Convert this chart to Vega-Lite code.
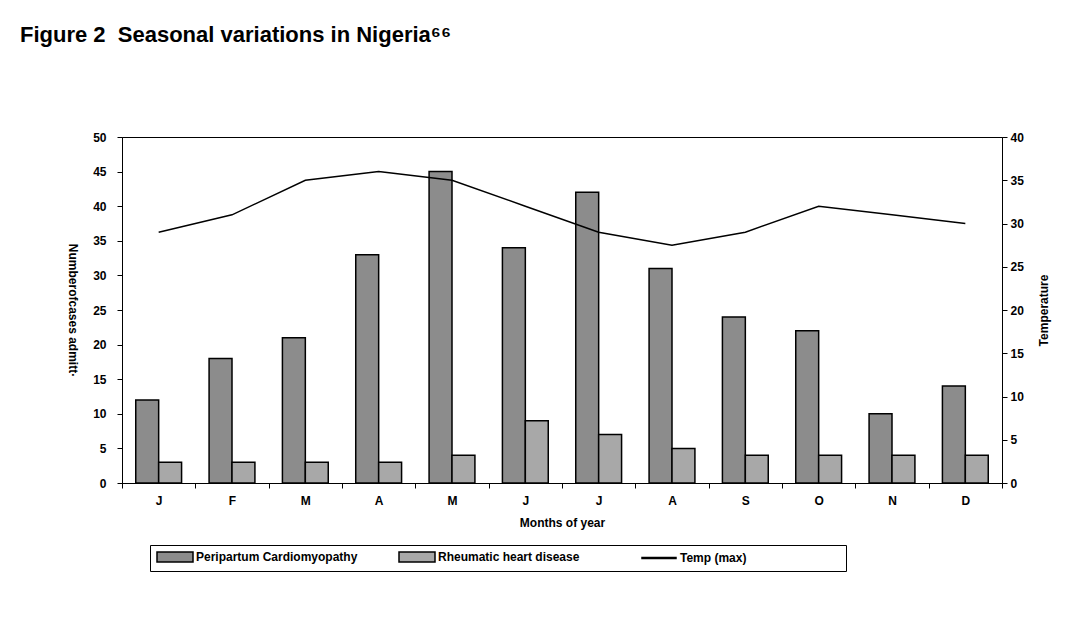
{
  "$schema": "https://vega.github.io/schema/vega-lite/v6.json",
  "width": 880,
  "height": 346,
  "autosize": {"type": "none"},
  "padding": {"left": 122, "top": 137, "right": 85, "bottom": 137},
  "background": "white",
  "title": {
    "text": "Figure 2\u00a0 Seasonal variations in Nigeria⁶⁶",
    "anchor": "start",
    "frame": "group",
    "dx": -102,
    "offset": 84,
    "font": "Liberation Sans",
    "fontSize": 22,
    "fontWeight": "bold",
    "color": "black"
  },
  "datasets": {
    "bars": [
      {"month": "Jan", "series": "Peripartum Cardiomyopathy", "cases": 12},
      {"month": "Jan", "series": "Rheumatic heart disease", "cases": 3},
      {"month": "Feb", "series": "Peripartum Cardiomyopathy", "cases": 18},
      {"month": "Feb", "series": "Rheumatic heart disease", "cases": 3},
      {"month": "Mar", "series": "Peripartum Cardiomyopathy", "cases": 21},
      {"month": "Mar", "series": "Rheumatic heart disease", "cases": 3},
      {"month": "Apr", "series": "Peripartum Cardiomyopathy", "cases": 33},
      {"month": "Apr", "series": "Rheumatic heart disease", "cases": 3},
      {"month": "May", "series": "Peripartum Cardiomyopathy", "cases": 45},
      {"month": "May", "series": "Rheumatic heart disease", "cases": 4},
      {"month": "Jun", "series": "Peripartum Cardiomyopathy", "cases": 34},
      {"month": "Jun", "series": "Rheumatic heart disease", "cases": 9},
      {"month": "Jul", "series": "Peripartum Cardiomyopathy", "cases": 42},
      {"month": "Jul", "series": "Rheumatic heart disease", "cases": 7},
      {"month": "Aug", "series": "Peripartum Cardiomyopathy", "cases": 31},
      {"month": "Aug", "series": "Rheumatic heart disease", "cases": 5},
      {"month": "Sep", "series": "Peripartum Cardiomyopathy", "cases": 24},
      {"month": "Sep", "series": "Rheumatic heart disease", "cases": 4},
      {"month": "Oct", "series": "Peripartum Cardiomyopathy", "cases": 22},
      {"month": "Oct", "series": "Rheumatic heart disease", "cases": 4},
      {"month": "Nov", "series": "Peripartum Cardiomyopathy", "cases": 10},
      {"month": "Nov", "series": "Rheumatic heart disease", "cases": 4},
      {"month": "Dec", "series": "Peripartum Cardiomyopathy", "cases": 14},
      {"month": "Dec", "series": "Rheumatic heart disease", "cases": 4}
    ],
    "temp": [
      {"month": "Jan", "temp": 29},
      {"month": "Feb", "temp": 31},
      {"month": "Mar", "temp": 35},
      {"month": "Apr", "temp": 36},
      {"month": "May", "temp": 35},
      {"month": "Jun", "temp": 32},
      {"month": "Jul", "temp": 29},
      {"month": "Aug", "temp": 27.5},
      {"month": "Sep", "temp": 29},
      {"month": "Oct", "temp": 32},
      {"month": "Nov", "temp": 31},
      {"month": "Dec", "temp": 30}
    ]
  },
  "layer": [
    {
      "data": {"name": "bars"},
      "mark": {"type": "bar", "stroke": "black", "strokeWidth": 1.5},
      "encoding": {
        "x": {
          "field": "month",
          "type": "nominal",
          "sort": ["Jan", "Feb", "Mar", "Apr", "May", "Jun", "Jul", "Aug", "Sep", "Oct", "Nov", "Dec"],
          "scale": {"paddingInner": 0, "paddingOuter": 0},
          "axis": {
            "title": "Months of year",
            "labelAngle": 0,
            "labelExpr": "substring(datum.label, 0, 1)",
            "tickBand": "extent",
            "labelPadding": 7,
            "titlePadding": 11
          }
        },
        "xOffset": {
          "field": "series",
          "sort": ["Peripartum Cardiomyopathy", "Rheumatic heart disease"],
          "scale": {"paddingInner": 0, "paddingOuter": 0.6}
        },
        "y": {
          "field": "cases",
          "type": "quantitative",
          "scale": {"domain": [0, 50]},
          "axis": {
            "title": "Numberofcases admitt·",
            "titleAngle": 90,
            "titleBaseline": "top",
            "values": [0, 5, 10, 15, 20, 25, 30, 35, 40, 45, 50],
            "labelPadding": 11,
            "titlePadding": 15
          }
        },
        "fill": {
          "field": "series",
          "type": "nominal",
          "scale": {
            "domain": ["Peripartum Cardiomyopathy", "Rheumatic heart disease", "Temp (max)"],
            "range": ["#8c8c8c", "#a8a8a8", "#000000"]
          },
          "legend": {
            "orient": "none",
            "legendX": 28,
            "legendY": 408,
            "direction": "horizontal",
            "title": null,
            "values": ["Peripartum Cardiomyopathy", "Rheumatic heart disease", "Temp (max)"],
            "strokeColor": "black",
            "fillColor": "white",
            "padding": 6,
            "gridAlign": "all",
            "columnPadding": 38,
            "symbolType": "M-1,-1H6.2V1H-1Z",
            "symbolSize": 100,
            "symbolStrokeColor": "black",
            "symbolStrokeWidth": 1.5,
            "labelOffset": 28,
            "labelFont": "Liberation Sans",
            "labelFontSize": 12,
            "labelFontWeight": "bold",
            "labelColor": "black",
            "labelLimit": 400,
            "labelExpr": "datum.label === 'Temp (max)' ? 'Temp (max)\u00a0\u00a0\u00a0\u00a0\u00a0\u00a0\u00a0\u00a0\u00a0\u00a0\u00a0\u00a0\u00a0\u00a0\u00a0\u00a0\u00a0\u00a0\u00a0\u00a0\u00a0\u00a0\u00a0\u00a0\u00a0\u00a0\u00a0\u00a0\u200b' : datum.label",
            "encode": {
              "symbols": {
                "update": {
                  "shape": {"signal": "datum.value === 'Temp (max)' ? 'M-0.8,-0.08H6V0.08H-0.8Z' : 'M-1,-1H6.2V1H-1Z'"}
                }
              }
            }
          }
        }
      }
    },
    {
      "data": {"name": "temp"},
      "mark": {"type": "line", "color": "black", "strokeWidth": 1.5},
      "encoding": {
        "x": {
          "field": "month",
          "type": "nominal",
          "sort": ["Jan", "Feb", "Mar", "Apr", "May", "Jun", "Jul", "Aug", "Sep", "Oct", "Nov", "Dec"]
        },
        "y": {
          "field": "temp",
          "type": "quantitative",
          "scale": {"domain": [0, 40]},
          "axis": {
            "orient": "right",
            "title": "Temperature",
            "titleAngle": 270,
            "titleBaseline": "top",
            "values": [0, 5, 10, 15, 20, 25, 30, 35, 40],
            "labelPadding": 3,
            "titlePadding": 15
          }
        }
      }
    }
  ],
  "resolve": {"scale": {"y": "independent"}, "axis": {"y": "independent"}},
  "config": {
    "view": {"stroke": "black", "strokeWidth": 1},
    "axis": {
      "domainColor": "black",
      "domainWidth": 1,
      "tickColor": "black",
      "tickSize": 5,
      "labelColor": "black",
      "titleColor": "black",
      "labelFont": "Liberation Sans",
      "titleFont": "Liberation Sans",
      "labelFontWeight": "bold",
      "titleFontWeight": "bold",
      "labelFontSize": 12,
      "titleFontSize": 12,
      "grid": false
    }
  }
}
